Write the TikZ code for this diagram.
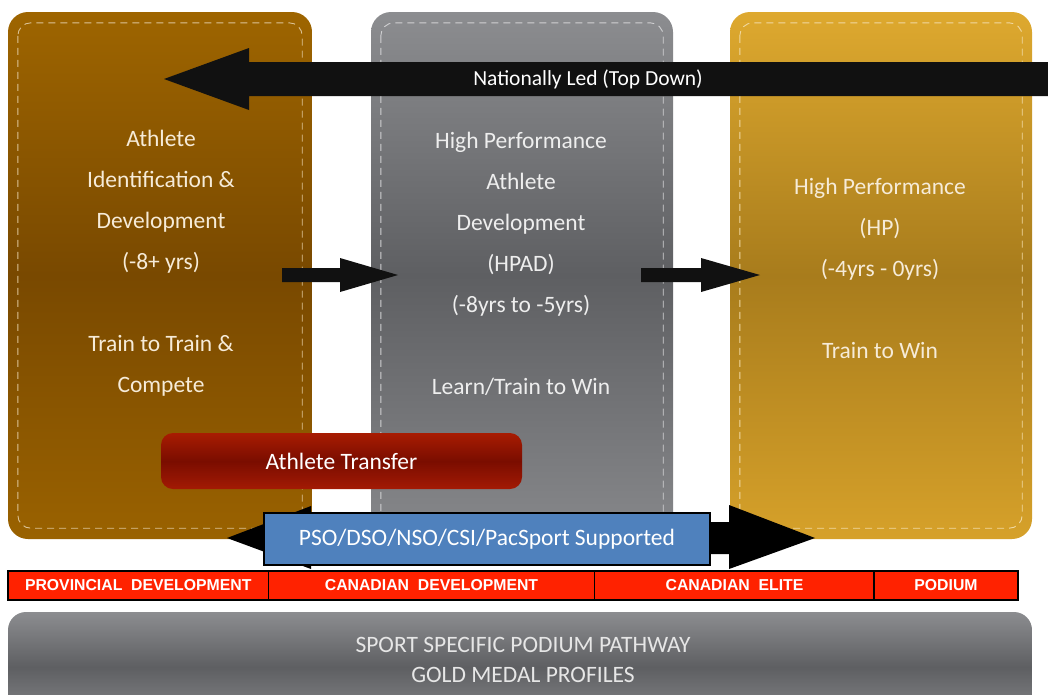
\documentclass[tikz,border=0pt]{standalone}
\usepackage{fontspec}
\setmainfont{Carlito}
\newfontfamily\barfont{Liberation Sans}
\usetikzlibrary{calc}
\definecolor{brownT}{HTML}{9E6500}
\definecolor{brownM}{HTML}{794900}
\definecolor{brownB}{HTML}{9A6200}
\definecolor{grayT}{HTML}{8C8D90}
\definecolor{grayM}{HTML}{5E5F62}
\definecolor{grayB}{HTML}{87888B}
\definecolor{goldT}{HTML}{DEA92F}
\definecolor{goldM}{HTML}{A87C1C}
\definecolor{goldB}{HTML}{D6A12A}
\definecolor{transT}{HTML}{A81C02}
\definecolor{transM}{HTML}{7A0D00}
\definecolor{transB}{HTML}{A31A04}
\definecolor{pbase}{HTML}{4F81BD}
\definecolor{barred}{HTML}{FF2200}
\definecolor{arrowblack}{HTML}{111111}
\definecolor{cream}{HTML}{F6EBD8}
\definecolor{lightgray}{HTML}{EEEEEE}
\definecolor{pathtext}{HTML}{E6E6E6}
\begin{document}
\begin{tikzpicture}[x=1pt,y=-1pt,
  stage/.style={rounded corners=20, minimum width=#1, minimum height=527, inner sep=0, draw=none},
  stitch/.style={dash pattern=on 7pt off 5pt, line width=0.9pt, rounded corners=13},
  boxtext/.style={align=center, font=\fontsize{23.5}{41}\selectfont, inner sep=0},
  blockarrow/.style={fill=arrowblack, draw=none},
  barseg/.style={draw=black, line width=1.3pt, fill=barred, minimum height=29, minimum width=#1, inner sep=0, text=white, font=\barfont\bfseries\fontsize{15.8}{15.8}\selectfont},
]
\useasboundingbox (0,0) rectangle (1048,694);
\clip (0,0) rectangle (1048,694);

% stage boxes
\node[stage=304, top color=brownT, bottom color=brownB, middle color=brownM] (b1) at (160,275.5) {};
\node[stage=302, top color=grayT, bottom color=grayB, middle color=grayM] (b2) at (522,275.5) {};
\node[stage=302, top color=goldT, bottom color=goldB, middle color=goldM] (b3) at (881,275.5) {};

\draw[stitch, draw=cream!70!brownT] ([shift={(10,11)}]b1.north west) rectangle ([shift={(-10,-11)}]b1.south east);
\draw[stitch, draw=white!60!grayT] ([shift={(10,11)}]b2.north west) rectangle ([shift={(-10,-11)}]b2.south east);
\draw[stitch, draw=white!55!goldT] ([shift={(10,11)}]b3.north west) rectangle ([shift={(-10,-11)}]b3.south east);

% box texts
\node[boxtext, text=cream] (t1) at (161,263.5) {Athlete\\Identification \&\\Development\\(-8+ yrs)\\[41pt]Train to Train \&\\Compete};
\node[boxtext, text=lightgray] (t2) at (521,263.5) {High Performance\\Athlete\\Development\\(HPAD)\\(-8yrs to -5yrs)\\[41pt]Learn/Train to Win};
\node[boxtext, text=cream] (t3) at (880,268.5) {High Performance\\(HP)\\(-4yrs - 0yrs)\\[41pt]Train to Win};

% top arrow: nationally led
\coordinate (topTip) at (164,79);
\coordinate (topEnd) at (1060,79);
\fill[blockarrow] (topTip) -- ($(topTip)+(85,-31)$) -- ($(topTip)+(85,-17)$) -- ($(topEnd)+(0,-17)$)
  -- ($(topEnd)+(0,17)$) -- ($(topTip)+(85,17)$) -- ($(topTip)+(85,31)$) -- cycle;
\node[text=white, font=\fontsize{21.5}{21.5}\selectfont, inner sep=0] (nl) at (588,79) {Nationally Led (Top Down)};

% arrows between stages
\coordinate (a1s) at (282,275);
\coordinate (a1e) at (398,275);
\fill[blockarrow] (a1e) -- ($(a1e)+(-58,-17)$) -- ($(a1e)+(-58,-7)$) -- ($(a1s)+(0,-7)$)
  -- ($(a1s)+(0,7)$) -- ($(a1e)+(-58,7)$) -- ($(a1e)+(-58,17)$) -- cycle;
\coordinate (a2s) at (641,275);
\coordinate (a2e) at (760,275);
\fill[blockarrow] (a2e) -- ($(a2e)+(-59,-17)$) -- ($(a2e)+(-59,-7)$) -- ($(a2s)+(0,-7)$)
  -- ($(a2s)+(0,7)$) -- ($(a2e)+(-59,7)$) -- ($(a2e)+(-59,17)$) -- cycle;

% athlete transfer
\node[rounded corners=12, minimum width=361, minimum height=56, inner sep=0,
  top color=transT, bottom color=transB, middle color=transM,
  text=white, font=\fontsize{23.5}{23.5}\selectfont] (at) at (341.5,461) {Athlete Transfer};

% double arrow (support)
\coordinate (dl) at (227,538);
\coordinate (dr) at (815,538);
\fill[blockarrow, fill=black] (dl) -- ($(dl)+(84,-32)$) -- ($(dl)+(84,-16)$) -- ($(dr)+(-86,-16)$)
  -- ($(dr)+(-86,-33)$) -- (dr) -- ($(dr)+(-86,31)$) -- ($(dr)+(-86,16)$)
  -- ($(dl)+(84,16)$) -- ($(dl)+(84,31)$) -- cycle;
\node[draw=black, line width=1.3pt, fill=pbase, minimum width=446, minimum height=52, inner sep=0,
  text=white, font=\fontsize{23.5}{23.5}\selectfont] (sup) at (487,539) {PSO/DSO/NSO/CSI/PacSport Supported};

% red bar
\node[barseg=260.5] (r1) at (138.25,585.5) {PROVINCIAL\ \ DEVELOPMENT};
\node[barseg=326] (r2) at (431.5,585.5) {CANADIAN\ \ DEVELOPMENT};
\node[barseg=280] (r3) at (734.5,585.5) {CANADIAN\ \ ELITE};
\node[barseg=144] (r4) at (946,585.5) {PODIUM};

% bottom pathway bar
\node[rounded corners=18, minimum width=1024, minimum height=110, inner sep=0,
  top color=grayT, bottom color=grayB, middle color=grayM] (pw) at (520,667) {};
\node[align=center, text=pathtext, font=\fontsize{23.5}{30}\selectfont, inner sep=0] (pwt) at (523,660) {SPORT SPECIFIC PODIUM PATHWAY\\GOLD MEDAL PROFILES};
\end{tikzpicture}
\end{document}
